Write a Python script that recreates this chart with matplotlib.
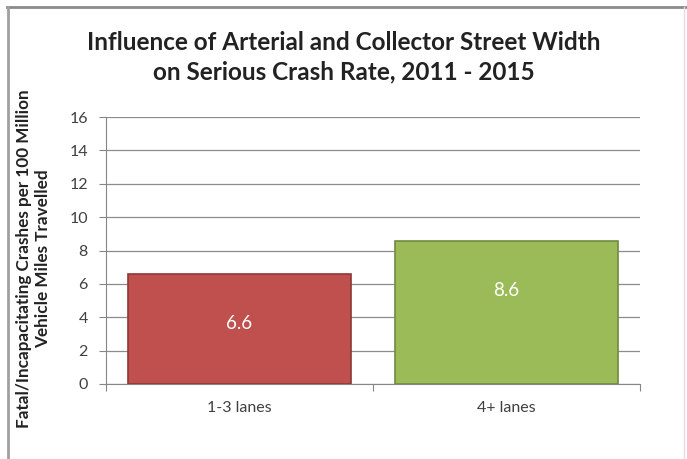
import matplotlib.pyplot as plt
from matplotlib.lines import Line2D

categories = ['1-3 lanes', '4+ lanes']
rates = [6.6, 8.6]
bar_colors = ['#C0504D', '#9BBB59']
edge_colors = ['#8C3836', '#71893F']
y_ticks = [0, 2, 4, 6, 8, 10, 12, 14, 16]

plt.rcParams['font.family'] = ['Lato', 'DejaVu Sans']

fig = plt.figure(figsize=(6.87, 4.59), dpi=100)
ax = fig.add_axes([0.1543, 0.1634, 0.7773, 0.5816])

pos = [0.5, 1.5]
ax.bar(pos, rates, width=0.835, color=bar_colors, edgecolor=edge_colors,
       linewidth=1.2, zorder=3)
for x, v in zip(pos, rates):
    ax.annotate(f'{v:.1f}', xy=(x, v), xytext=(0, -36), textcoords='offset points',
                ha='center', va='center', color='white', fontsize=13.5, zorder=4)

ax.set_xlim(0, 2)
ax.set_ylim(0, 16)
ax.set_yticks(y_ticks)
ax.set_xticks([0, 1, 2])
ax.set_xticklabels([])
ax.set_xticks(pos, minor=True)
ax.set_xticklabels(categories, minor=True)
ax.tick_params(axis='x', which='minor', length=0, pad=12, labelsize=11.5, labelcolor='#404040')
ax.tick_params(axis='x', which='major', length=5, color='#868686')
ax.tick_params(axis='y', length=5, color='#868686', labelsize=11.5, labelcolor='#404040', pad=8)

ax.grid(axis='y', color='#8C8C8C', linewidth=0.9, zorder=0)
for s in ['top', 'right']:
    ax.spines[s].set_visible(False)
for s in ['left', 'bottom']:
    ax.spines[s].set_color('#868686')

fig.text(0.5, 0.876, 'Influence of Arterial and Collector Street Width\non Serious Crash Rate, 2011 - 2015',
         ha='center', va='center', fontsize=17.5, fontweight='bold', color='#222222',
         linespacing=1.35)
fig.text(0.049, 0.436, 'Fatal/Incapacitating Crashes per 100 Million\nVehicle Miles Travelled',
         ha='center', va='center', rotation=90, fontsize=12.3, fontweight='bold',
         color='#222222', linespacing=1.25)

# chart frame edges
fig.add_artist(Line2D([0.01, 1.0], [0.984, 0.984], color='#8A8A8A', linewidth=2))
fig.add_artist(Line2D([0.011, 0.011], [0.0, 0.984], color='#A0A0A0', linewidth=2))
fig.add_artist(Line2D([0.995, 0.995], [0.0, 0.984], color='#E0E0E0', linewidth=1))

fig.savefig('out.png', dpi=100)
